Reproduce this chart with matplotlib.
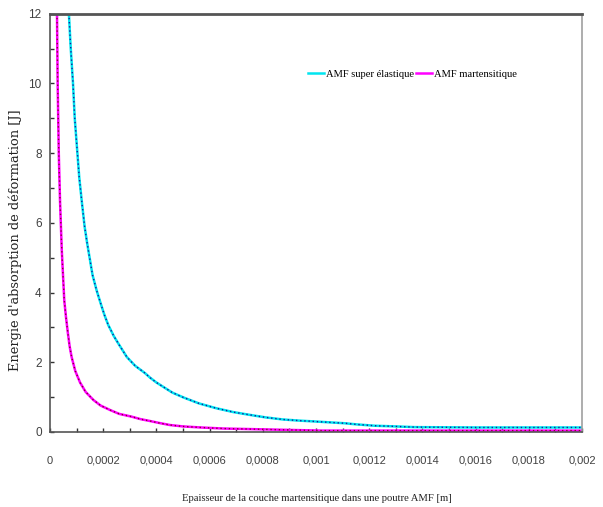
import matplotlib
matplotlib.use("Agg")
import matplotlib.pyplot as plt
from matplotlib.ticker import MultipleLocator, FixedLocator

# ---- data ----
x_super = [7.1e-5, 7.8e-5, 8.65e-5, 9.3e-5, 1.03e-4, 1.1e-4, 1.19e-4, 1.3e-4, 1.4e-4,
           1.5e-4, 1.6e-4, 1.75e-4, 1.9e-4, 2.05e-4, 2.19e-4, 2.4e-4, 2.6e-4, 2.89e-4,
           3.2e-4, 3.57e-4, 3.76e-4, 4.0e-4, 4.33e-4, 4.6e-4, 5.02e-4, 5.6e-4, 6.26e-4,
           6.9e-4, 7.52e-4, 8.1e-4, 8.75e-4, 9.3e-4, 1.0e-3, 1.11e-3, 1.15e-3, 1.22e-3,
           1.3e-3, 1.37e-3, 1.6e-3, 2.0e-3]
y_super = [12.0, 11.0, 10.0, 9.0, 8.0, 7.3, 6.65, 5.9, 5.4,
           4.95, 4.5, 4.07, 3.7, 3.35, 3.07, 2.75, 2.5, 2.15,
           1.9, 1.69, 1.56, 1.42, 1.26, 1.13, 0.99, 0.82, 0.68,
           0.57, 0.49, 0.42, 0.36, 0.33, 0.30, 0.25, 0.22, 0.18,
           0.16, 0.14, 0.13, 0.13]

x_mart = [2.63e-5, 2.88e-5, 3.3e-5, 3.76e-5, 4.43e-5, 5.36e-5, 6.0e-5, 6.7e-5, 7.4e-5,
          8.14e-5, 9.5e-5, 1.13e-4, 1.34e-4, 1.63e-4, 1.9e-4, 2.26e-4, 2.6e-4, 3.07e-4,
          3.4e-4, 3.76e-4, 4.1e-4, 4.51e-4, 5.0e-4, 5.67e-4, 6.5e-4, 7.93e-4, 9.0e-4,
          1.02e-3, 2.0e-3]
y_mart = [12.0, 10.0, 8.0, 6.65, 5.21, 3.78, 3.3, 2.85, 2.45,
          2.15, 1.75, 1.42, 1.15, 0.92, 0.76, 0.63, 0.52, 0.44,
          0.37, 0.315, 0.26, 0.2, 0.16, 0.13, 0.10, 0.077, 0.06,
          0.04, 0.04]

series_names = ["AMF super élastique", "AMF martensitique"]
x_ticks = [0, 0.0002, 0.0004, 0.0006, 0.0008, 0.001, 0.0012, 0.0014, 0.0016, 0.0018, 0.002]
x_tick_labels = ["0", "0,0002", "0,0004", "0,0006", "0,0008", "0,001", "0,0012",
                 "0,0014", "0,0016", "0,0018", "0,002"]
y_ticks = [0, 2, 4, 6, 8, 10, 12]
y_tick_labels = ["0", "2", "4", "6", "8", "10", "12"]

fig = plt.figure(figsize=(6.03, 5.07), dpi=100)
W, H = 603, 507
ax = fig.add_axes([50 / W, 1 - 432 / H, (582 - 50) / W, (432 - 13.7) / H])

# super elastic
l1, = ax.plot(x_super, y_super, color="#00E5F0", lw=1.8, solid_joinstyle="round")
ax.plot(x_super, y_super, color="#1A1A9A", lw=1.0, linestyle=(0, (1, 2)))
# martensitic
l2, = ax.plot(x_mart, y_mart, color="#FF00FF", lw=1.8, solid_joinstyle="round")
ax.plot(x_mart, y_mart, color="#8B0030", lw=1.0, linestyle=(0, (1, 2)))

ax.set_xlim(0, 0.002)
ax.set_ylim(0, 12)

tick_font = dict(family=["Liberation Sans", "DejaVu Sans"], size=8)
ax.xaxis.set_major_locator(FixedLocator(x_ticks))
ax.set_xticklabels(x_tick_labels, fontdict=tick_font, color="#404040")
ax.xaxis.set_minor_locator(MultipleLocator(0.0001))
ax.yaxis.set_major_locator(FixedLocator(y_ticks))
ax.set_yticklabels(y_tick_labels, fontdict=dict(tick_font, size=8.5), color="#404040")
ax.yaxis.set_minor_locator(MultipleLocator(1))

ax.tick_params(axis="both", which="both", direction="in", length=3, width=1, color="#333333")
ax.tick_params(axis="x", which="major", pad=17)
ax.tick_params(axis="y", which="major", pad=6)

for side in ["left", "bottom"]:
    ax.spines[side].set_color("#555555")
    ax.spines[side].set_linewidth(1.2)
ax.spines["top"].set_color("#555555")
ax.spines["top"].set_linewidth(2.0)
ax.spines["right"].set_color("#A0A0A0")
ax.spines["right"].set_linewidth(1.2)

ax.set_xlabel("Epaisseur de la couche martensitique dans une poutre AMF [m]",
              family=["Liberation Serif", "DejaVu Serif"], size=7.7, color="#222222")
ax.xaxis.set_label_coords(0.502, -0.148)
ax.set_ylabel("Energie d'absorption de déformation [J]",
              family=["DejaVu Serif"], size=9.4, color="#222222")
ax.yaxis.set_label_coords(-0.053, 0.459)

leg = ax.legend([l1, l2], series_names, loc="center left",
                bbox_to_anchor=(303 / W, 1 - 74 / H), bbox_transform=fig.transFigure,
                ncol=2, frameon=False, handlelength=1.5, handletextpad=0.2,
                columnspacing=0.2, borderpad=0,
                prop=dict(family=["Liberation Serif", "DejaVu Serif"], size=7.6))

fig.savefig("out.png", dpi=100)
